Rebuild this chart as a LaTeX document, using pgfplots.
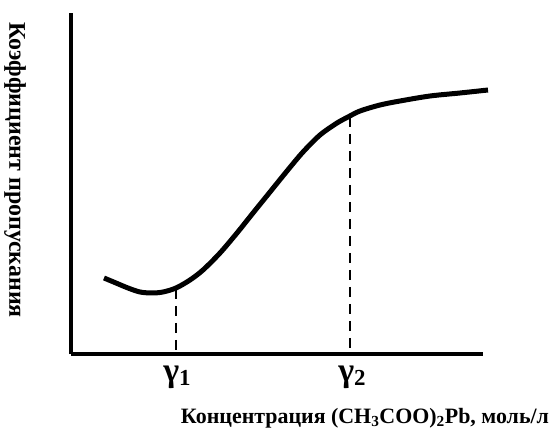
\documentclass[border=0pt]{standalone}
\usepackage{pgfplots}
\pgfplotsset{compat=1.18}
\usepackage{fontspec}
\setmainfont{Liberation Serif}

\begin{document}
\begin{tikzpicture}
\begin{axis}[
    scale only axis,
    width=412bp, height=341bp,
    xmin=71, xmax=483,
    ymin=81, ymax=422,
    axis x line=bottom,
    axis y line=left,
    axis line style={line width=3bp, -},
    xtick=\empty, ytick=\empty,
    clip=false,
    ]
% transmission curve
\addplot[black, line width=5bp, smooth, tension=0.5] coordinates {
  (104,157) (116,152) (128,147) (140,143) (152,142) (163,143)
  (176,147) (190,155) (203,165) (220,182) (237,202) (253,222)
  (270,243) (287,264) (303,283) (320,300) (337,312) (348,318)
  (360,324) (380,330) (400,334) (430,339) (460,342) (488,345)
};
% gamma markers
\addplot[black, line width=1.8bp, dash pattern=on 10bp off 7bp] coordinates {(176,146) (176,82)};
\addplot[black, line width=1.8bp, dash pattern=on 10bp off 7bp] coordinates {(350,318) (350,82)};
\node[font=\fontsize{34}{36}\selectfont\bfseries] at (axis cs:177,58) {γ\raisebox{-0.25ex}{\fontsize{23}{23}\selectfont 1}};
\node[font=\fontsize{34}{36}\selectfont\bfseries] at (axis cs:352,58) {γ\raisebox{-0.25ex}{\fontsize{23}{23}\selectfont 2}};
\node[font=\fontsize{22}{24}\selectfont\bfseries] at (axis cs:365,17) {Концентрация (CH\textsubscript{3}COO)\textsubscript{2}Pb, моль/л};
\node[font=\fontsize{24}{26}\selectfont\bfseries, rotate=-90] at (axis cs:15,265) {Коэффициент пропускания};
\useasboundingbox (axis cs:0,0) rectangle (axis cs:560,435);
\end{axis}
\end{tikzpicture}
\end{document}
